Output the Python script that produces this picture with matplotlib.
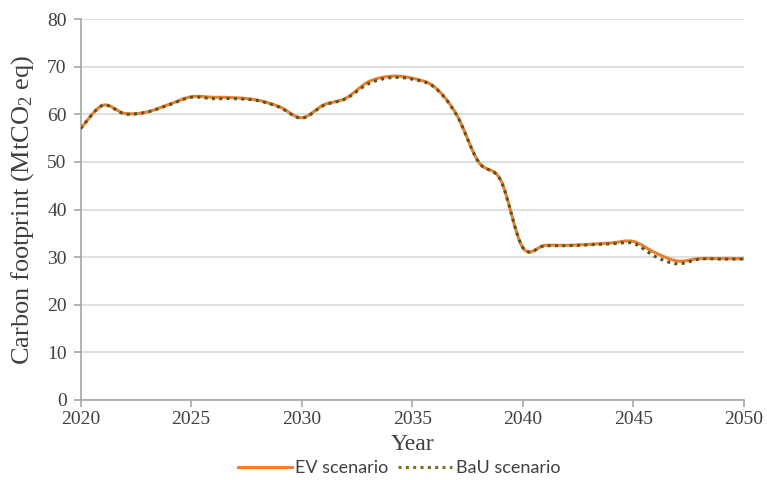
import matplotlib
matplotlib.use("Agg")
import matplotlib.pyplot as plt
import numpy as np
from matplotlib.path import Path
from matplotlib.patches import PathPatch
from matplotlib.lines import Line2D

years = list(range(2020, 2051))
ev = [57.0, 61.9, 60.2, 60.5, 62.1, 63.7, 63.6, 63.5, 63.0, 61.6,
      59.3, 62.0, 63.4, 66.8, 68.0, 67.6, 65.8, 60.0, 50.0, 46.2,
      32.0, 32.5, 32.5, 32.7, 33.0, 33.3, 30.9, 29.2, 29.7, 29.7, 29.7]
bau = [57.0, 61.9, 60.1, 60.5, 62.0, 63.6, 63.3, 63.3, 62.9, 61.5,
       59.2, 61.9, 63.3, 66.4, 67.7, 67.4, 65.7, 59.9, 50.0, 46.1,
       32.0, 32.4, 32.4, 32.6, 32.8, 32.9, 30.1, 28.6, 29.6, 29.6, 29.6]

x_ticks = [2020, 2025, 2030, 2035, 2040, 2045, 2050]
y_ticks = [0, 10, 20, 30, 40, 50, 60, 70, 80]

plt.rcParams["mathtext.fontset"] = "custom"
plt.rcParams["mathtext.rm"] = "Liberation Serif"
plt.rcParams["mathtext.it"] = "Liberation Serif:italic"


def smooth_path(xs, ys):
    pts = np.column_stack([xs, ys]).astype(float)
    n = len(pts)
    verts = [pts[0]]
    codes = [Path.MOVETO]
    for i in range(n - 1):
        p0 = pts[i - 1] if i > 0 else pts[i]
        p1 = pts[i]
        p2 = pts[i + 1]
        p3 = pts[i + 2] if i + 2 < n else pts[i + 1]
        c1 = p1 + (p2 - p0) / 6.0
        c2 = p2 - (p3 - p1) / 6.0
        verts += [c1, c2, p2]
        codes += [Path.CURVE4] * 3
    return Path(verts, codes)


fig = plt.figure(figsize=(7.67, 4.80), dpi=100)
ax = fig.add_axes([0.105, 0.1667, 0.865, 0.7933])

orange = "#ED7D31"
olive = "#4F5A1E"

ax.add_patch(PathPatch(smooth_path(years, ev), fill=False, edgecolor=orange,
                       linewidth=2.2, transform=ax.transData, zorder=3))
ax.add_patch(PathPatch(smooth_path(years, bau), fill=False, edgecolor=olive,
                       linewidth=2.2, linestyle=(0, (1, 1.4)),
                       transform=ax.transData, zorder=4))

ax.set_xlim(2020, 2050)
ax.set_ylim(0, 80)
ax.set_xticks(x_ticks)
ax.set_yticks(y_ticks)
ax.grid(axis="y", color="#D9D9D9", linewidth=1.2)
ax.set_axisbelow(True)
for s in ["top", "right"]:
    ax.spines[s].set_visible(False)
for s in ["left", "bottom"]:
    ax.spines[s].set_color("#A6A6A6")
    ax.spines[s].set_linewidth(1.2)
ax.tick_params(axis="both", colors="#A6A6A6", length=5, width=1.2,
               labelcolor="#404040", labelsize=14)
ax.tick_params(axis="x", pad=3)
ax.tick_params(axis="y", pad=5)
for lab in ax.get_xticklabels() + ax.get_yticklabels():
    lab.set_family("Liberation Serif")

ax.set_xlabel("Year", family="Liberation Serif", fontsize=17, color="#404040", labelpad=4)
ax.set_ylabel("Carbon footprint (MtCO$_2$ eq)", family="Liberation Serif",
              fontsize=19, color="#404040", labelpad=8)

handles = [Line2D([], [], color=orange, linewidth=2.2),
           Line2D([], [], color="#7A7020", linewidth=2.2, linestyle=(0, (1, 1.4)))]
fig.legend(handles, ["EV scenario", "BaU scenario"], loc="center",
           bbox_to_anchor=(0.52, 0.025), ncol=2, frameon=False,
           prop={"family": "Lato", "size": 13}, handlelength=3.0,
           handletextpad=0.2, columnspacing=0.5, labelcolor="#404040")

fig.savefig("out.png", dpi=100)
